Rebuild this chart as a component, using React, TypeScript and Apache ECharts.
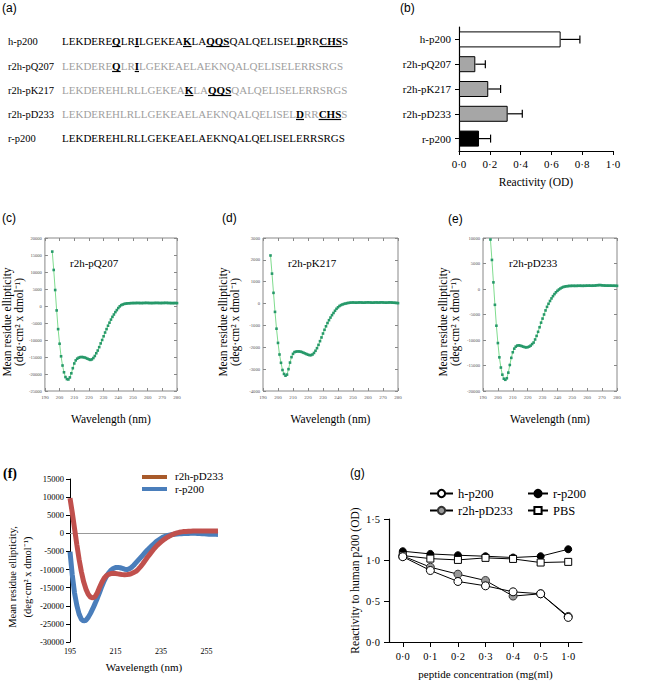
import React, { useEffect, useRef } from "react";
import * as echarts from "echarts";

const SERIF = "Liberation Serif, serif";
const SANS = "Liberation Sans, sans-serif";

// ---------- (a) sequences ----------
const seqNames = ["h-p200", "r2h-pQ207", "r2h-pK217", "r2h-pD233", "r-p200"];
// [..] marks bold, underlined human residues
const seqMarkup = [
  "LEKDERE[Q]LR[I]LGEKEA[K]LA[QQS]QALQELISEL[D]RR[CHS]S",
  "LEKDERE[Q]LR[I]LGEKEAELAEKNQALQELISELERRSRGS",
  "LEKDEREHLRLLGEKEA[K]LA[QQS]QALQELISELERRSRGS",
  "LEKDEREHLRLLGEKEAELAEKNQALQELISEL[D]RR[CHS]S",
  "LEKDEREHLRLLGEKEAELAEKNQALQELISELERRSRGS",
];
const seqIsHybrid = [false, true, true, true, false];

// ---------- (b) reactivity ----------
const bCategories = ["h-p200", "r2h-pQ207", "r2h-pK217", "r2h-pD233", "r-p200"];
const bMeans = [0.66, 0.106, 0.19, 0.316, 0.13];
const bErrors = [0.125, 0.065, 0.08, 0.095, 0.075];

// ---------- CD spectra ----------
const wavelengths = [
  195, 196, 197, 198, 199, 200, 201, 202, 203, 204, 205, 206, 207, 208, 209, 210,
  211, 212, 213, 214, 215, 216, 217, 218, 219, 220, 221, 222, 223, 224, 225, 226,
  227, 228, 229, 230, 231, 232, 233, 234, 235, 236, 237, 238, 239, 240, 241, 242,
  243, 244, 245, 246, 247, 248, 249, 250, 251, 252, 253, 254, 255, 256, 257, 258,
  259, 260, 261, 262, 263, 264, 265, 266, 267, 268, 269, 270, 271, 272, 273, 274,
  275, 276, 277, 278, 279, 280,
];
const cdQ207 = [
  16000, 10600, 4700, -1300, -6800, -11100, -14800, -17500, -19500, -20900, -21500, -21600, -21000, -19800, -18300, -16900,
  -16000, -15500, -15200, -15050, -15000, -15050, -15150, -15300, -15500, -15700, -15850, -15700, -15300, -14700, -13900, -13100,
  -12100, -11000, -10000, -8900, -7800, -6800, -5800, -4900, -4000, -3200, -2500, -1800, -1200, -600, -100, 250,
  450, 600, 700, 750, 800, 820, 850, 870, 860, 880, 900, 880, 870, 860, 880, 900,
  920, 900, 880, 870, 860, 880, 900, 910, 900, 880, 870, 890, 900, 920, 910, 890,
  870, 860, 850, 860, 870, 850,
];
const cdK217 = [
  2200, 1370, 490, -380, -1150, -1800, -2330, -2710, -3040, -3220, -3300, -3250, -3000, -2700, -2450, -2300,
  -2220, -2200, -2190, -2190, -2200, -2220, -2250, -2280, -2310, -2340, -2360, -2360, -2330, -2260, -2160, -2040,
  -1890, -1720, -1550, -1370, -1200, -1040, -890, -760, -640, -530, -430, -330, -240, -170, -110, -70,
  -40, -15, 0, 20, 30, 40, 45, 50, 45, 40, 45, 50, 50, 45, 40, 45,
  50, 55, 50, 45, 40, 45, 50, 50, 45, 50, 55, 50, 45, 40, 45, 50,
  50, 45, 40, 35, 30, 20,
];
const cdD233 = [
  9700, 5700, 1300, -3100, -7200, -10600, -13400, -15400, -16800, -17600, -17800, -17500, -16400, -14900, -13500, -12400,
  -11700, -11300, -11100, -11050, -11100, -11200, -11300, -11400, -11450, -11400, -11300, -11100, -10800, -10500, -9900, -9200,
  -8400, -7500, -6600, -5800, -5000, -4200, -3500, -2900, -2350, -1850, -1400, -1000, -650, -350, -100, 100,
  280, 400, 480, 530, 570, 600, 610, 620, 620, 610, 620, 630, 640, 630, 620, 630,
  640, 650, 660, 650, 640, 650, 670, 700, 740, 770, 760, 720, 690, 670, 660, 650,
  660, 650, 640, 640, 630, 620,
];
// (f) overlay: r-p200 measured 195..260 nm
const cdRp200 = [
  -5100, -11500, -16500, -19900, -22300, -23700, -24200, -24000, -23200, -22100, -20800, -19400, -17900, -16300, -14600, -13100,
  -11900, -10900, -10200, -9700, -9450, -9400, -9500, -9700, -9900, -10000, -9800, -9400, -8800, -8100, -7400, -6700,
  -6000, -5300, -4600, -4000, -3400, -2800, -2200, -1800, -1400, -1000, -750, -550, -420, -320, -240, -180,
  -130, -90, -60, -40, -20, 0, 10, 0, -30, -60, -100, -150, -200, -220, -250, -260,
  -280, -300,
];

// ---------- (g) inhibition ----------
const gCategories = ["0·0", "0·1", "0·2", "0·3", "0·4", "0·5", "1·0"];
const gHp200 = [1.04, 0.872, 0.738, 0.685, 0.612, 0.588, 0.3];
const gR2hD233 = [1.05, 0.912, 0.827, 0.75, 0.56, 0.588, 0.312];
const gRp200 = [1.107, 1.074, 1.058, 1.046, 1.03, 1.046, 1.131];
const gPBS = [1.054, 1.017, 1.001, 1.026, 1.013, 0.969, 0.977];

const dot = (v: number, d = 1) => v.toFixed(d).replace(".", "·");
const plain = (v: number) => String(v);

function parseMarkup(s: string) {
  const segs: { t: string; hi: boolean }[] = [];
  const re = /\[([A-Z]+)\]|([A-Z]+)/g;
  let m;
  while ((m = re.exec(s))) {
    if (m[1]) segs.push({ t: m[1], hi: true });
    else segs.push({ t: m[2], hi: false });
  }
  return segs;
}

function buildSequenceGraphics() {
  const canvas = document.createElement("canvas");
  const ctx = canvas.getContext("2d")!;
  const rowY = [41, 66, 90, 114, 138];
  const fs = 11;
  const els: any[] = [];
  seqNames.forEach((name, r) => {
    const y = rowY[r];
    els.push({
      type: "text", x: 8, y, silent: true,
      style: { text: name, fontFamily: SERIF, fontSize: 10.5, fill: "#000", verticalAlign: "middle", textVerticalAlign: "middle" },
    });
    let x = 62;
    const base = seqIsHybrid[r] ? "#a0a0a0" : "#000";
    parseMarkup(seqMarkup[r]).forEach((seg) => {
      const weight = seg.hi ? "bold" : "normal";
      ctx.font = `${weight} ${fs}px ${SERIF}`;
      const w = ctx.measureText(seg.t).width;
      els.push({
        type: "text", x, y, silent: true,
        style: { text: seg.t, fontFamily: SERIF, fontSize: fs, fontWeight: weight, fill: seg.hi ? "#000" : base, verticalAlign: "middle", textVerticalAlign: "middle" },
      });
      if (seg.hi) {
        els.push({ type: "line", silent: true, shape: { x1: x, y1: y + 5.5, x2: x + w, y2: y + 5.5 }, style: { stroke: "#000", lineWidth: 1.2 } });
      }
      x += w;
    });
  });
  return els;
}

function panelLabel(t: string, x: number, y: number, bold = false) {
  return {
    type: "text", x, y, silent: true,
    style: {
      text: t, fontFamily: bold ? SERIF : SANS, fontSize: bold ? 14 : 12, fontWeight: bold ? "bold" : "normal",
      fill: "#000", verticalAlign: "middle", textVerticalAlign: "middle",
    },
  };
}

function innerLabel(t: string, x: number, y: number) {
  return {
    type: "text", x, y, silent: true,
    style: { text: t, fontFamily: SERIF, fontSize: 11, fill: "#000", verticalAlign: "middle", textVerticalAlign: "middle" },
  };
}

const cdFrame = "#888";
function cdXAxes(gridIndex: number) {
  const common = {
    gridIndex, type: "value", min: 190, max: 280, interval: 10,
    axisLine: { show: false, onZero: false }, splitLine: { show: false },
    axisTick: { show: true, inside: true, length: 3, lineStyle: { color: cdFrame } },
  };
  return [
    { ...common, position: "bottom", axisLabel: { fontSize: 5, color: "#555", margin: 4, fontFamily: SERIF, formatter: plain },
      name: "Wavelength (nm)", nameLocation: "middle", nameGap: 22, nameTextStyle: { fontFamily: SERIF, fontSize: 11.5, color: "#000" } },
    { ...common, position: "top", axisLabel: { show: false } },
  ];
}
function cdYAxes(gridIndex: number, min: number, max: number, interval: number, gap: number) {
  const common = {
    gridIndex, type: "value", min, max, interval,
    axisLine: { show: false, onZero: false }, splitLine: { show: false },
    axisTick: { show: true, inside: true, length: 3, lineStyle: { color: cdFrame } },
  };
  return [
    { ...common, position: "left", axisLabel: { fontSize: 4.6, color: "#555", margin: 3, fontFamily: SERIF, formatter: plain },
      name: "Mean residue ellipticity\n(deg·cm² x dmol⁻¹)", nameLocation: "middle", nameGap: gap,
      nameTextStyle: { fontFamily: SERIF, fontSize: 11.5, color: "#000", lineHeight: 12, padding: [0, 15, 0, 0] } },
    { ...common, position: "right", axisLabel: { show: false } },
  ];
}
function cdSeries(name: string, xi: number, yi: number, vals: number[]) {
  return {
    name, type: "line", xAxisIndex: xi, yAxisIndex: yi, silent: true,
    data: wavelengths.map((w, i) => [w, vals[i]]),
    symbol: "rect", symbolSize: 2.6, showSymbol: true,
    itemStyle: { color: "#27996a" }, lineStyle: { color: "#7fdc8e", width: 1 },
  };
}

export default function App() {
  const ref = useRef<HTMLDivElement>(null);
  useEffect(() => {
    if (!ref.current) return;
    const chart = echarts.init(ref.current, null, { renderer: "svg" });
    const bFill = ["#ffffff", "#a6a6a6", "#a6a6a6", "#a6a6a6", "#000000"];
    const fWl = wavelengths.filter((w) => w <= 260);

    const option: any = {
      animation: false,
      grid: [
        { left: 459, top: 27, width: 154, height: 124 },
        { left: 43, top: 238, width: 134, height: 153, show: true, borderColor: cdFrame, borderWidth: 1, backgroundColor: "transparent" },
        { left: 263, top: 238, width: 135, height: 153, show: true, borderColor: cdFrame, borderWidth: 1, backgroundColor: "transparent" },
        { left: 483, top: 238, width: 134, height: 153, show: true, borderColor: cdFrame, borderWidth: 1, backgroundColor: "transparent" },
        { left: 70, top: 479, width: 148, height: 163 },
        { left: 389, top: 519, width: 193, height: 123 },
      ],
      xAxis: [
        {
          gridIndex: 0, type: "value", min: 0, max: 1, interval: 0.2,
          axisLine: { show: true, onZero: false, lineStyle: { color: "#000", width: 1.2 } },
          axisTick: { show: true, length: 4, lineStyle: { color: "#000" } },
          splitLine: { show: false },
          axisLabel: { formatter: (v: number) => dot(v), fontFamily: SERIF, fontSize: 11, color: "#000", margin: 7 },
          name: "Reactivity (OD)", nameLocation: "middle", nameGap: 25,
          nameTextStyle: { fontFamily: SERIF, fontSize: 11.5, color: "#000" },
        },
        ...cdXAxes(1),
        ...cdXAxes(2),
        ...cdXAxes(3),
        {
          gridIndex: 4, type: "value", min: 195, max: 260, interval: 20,
          axisLine: { show: false, onZero: false }, axisTick: { show: false }, splitLine: { show: false },
          axisLabel: { fontFamily: SERIF, fontSize: 8, color: "#000", margin: 5, showMaxLabel: false, formatter: plain },
          name: "Wavelength (nm)", nameLocation: "middle", nameGap: 19,
          nameTextStyle: { fontFamily: SERIF, fontSize: 11, color: "#000" },
        },
        {
          gridIndex: 5, type: "category", data: gCategories, boundaryGap: true,
          axisLine: { show: true, onZero: false, lineStyle: { color: "#000", width: 1.2 } },
          axisTick: { show: true, alignWithLabel: true, length: 5, lineStyle: { color: "#000" } },
          axisLabel: { fontFamily: SERIF, fontSize: 10.5, color: "#000", margin: 9 },
          name: "peptide concentration (mg(ml)", nameLocation: "middle", nameGap: 26,
          nameTextStyle: { fontFamily: SERIF, fontSize: 11, color: "#000" },
        },
      ],
      yAxis: [
        {
          gridIndex: 0, type: "category", data: bCategories, inverse: true,
          axisLine: { show: true, onZero: false, lineStyle: { color: "#000", width: 1.2 } },
          axisTick: { show: true, alignWithLabel: true, length: 4, lineStyle: { color: "#000" } },
          axisLabel: { fontFamily: SERIF, fontSize: 11, color: "#000", margin: 8 },
        },
        ...cdYAxes(1, -25000, 20000, 5000, 19),
        ...cdYAxes(2, -4000, 3000, 1000, 22),
        ...cdYAxes(3, -20000, 10000, 5000, 22),
        {
          gridIndex: 4, type: "value", min: -30000, max: 15000, interval: 5000,
          axisLine: { show: true, onZero: false, lineStyle: { color: "#000" } },
          axisTick: { show: true, length: 4, lineStyle: { color: "#000" } },
          splitLine: { show: false },
          axisLabel: { fontFamily: SERIF, fontSize: 8.5, color: "#000", margin: 6, formatter: plain },
        },
        {
          gridIndex: 5, type: "value", min: 0, max: 1.5, interval: 0.5,
          axisLine: { show: true, onZero: false, lineStyle: { color: "#000", width: 1.2 } },
          axisTick: { show: true, length: 5, lineStyle: { color: "#000" } },
          splitLine: { show: false },
          axisLabel: { formatter: (v: number) => dot(v), fontFamily: SERIF, fontSize: 10.5, color: "#000", margin: 9 },
          name: "Reactivity to human p200 (OD)", nameLocation: "middle", nameGap: 28,
          nameTextStyle: { fontFamily: SERIF, fontSize: 11.5, color: "#000" },
        },
      ],
      legend: [
        {
          data: ["h-p200", "r2h-pD233"], orient: "vertical", left: 424, top: 482,
          itemWidth: 23, itemHeight: 9, itemGap: 4, selectedMode: false,
          textStyle: { fontFamily: SERIF, fontSize: 12.5, color: "#000" },
        },
        {
          data: ["r-p200", "PBS"], orient: "vertical", left: 522, top: 482,
          itemWidth: 20, itemHeight: 9, itemGap: 4, selectedMode: false,
          textStyle: { fontFamily: SERIF, fontSize: 12.5, color: "#000" },
        },
      ],
      series: [
        // (g)
        {
          name: "h-p200", type: "line", xAxisIndex: 8, yAxisIndex: 8, data: gHp200, z: 4,
          symbol: "circle", symbolSize: 8,
          itemStyle: { color: "#fff", borderColor: "#000", borderWidth: 1 }, lineStyle: { color: "#000", width: 1 },
        },
        {
          name: "r2h-pD233", type: "line", xAxisIndex: 8, yAxisIndex: 8, data: gR2hD233, z: 3,
          symbol: "circle", symbolSize: 8,
          itemStyle: { color: "#999", borderColor: "#333", borderWidth: 1 }, lineStyle: { color: "#000", width: 1 },
        },
        {
          name: "r-p200", type: "line", xAxisIndex: 8, yAxisIndex: 8, data: gRp200, z: 3,
          symbol: "circle", symbolSize: 7,
          itemStyle: { color: "#000", borderColor: "#000", borderWidth: 1 }, lineStyle: { color: "#000", width: 1 },
        },
        {
          name: "PBS", type: "line", xAxisIndex: 8, yAxisIndex: 8, data: gPBS, z: 3,
          symbol: "rect", symbolSize: 7,
          itemStyle: { color: "#fff", borderColor: "#000", borderWidth: 1 }, lineStyle: { color: "#000", width: 1 },
        },
        // (b)
        {
          name: "Reactivity", type: "bar", xAxisIndex: 0, yAxisIndex: 0, barWidth: 16, silent: true,
          data: bMeans.map((v, i) => ({ value: v, itemStyle: { color: bFill[i], borderColor: "#000", borderWidth: 1 } })),
        },
        {
          name: "SD", type: "custom", xAxisIndex: 0, yAxisIndex: 0, silent: true, z: 5,
          data: bCategories.map((c, i) => [i, bMeans[i], bMeans[i] + bErrors[i]]),
          encode: { y: 0, x: [1, 2] },
          renderItem: (params: any, api: any) => {
            const cat = api.value(0);
            const p1 = api.coord([api.value(1), cat]);
            const p2 = api.coord([api.value(2), cat]);
            return {
              type: "group",
              children: [
                { type: "line", shape: { x1: p1[0], y1: p1[1], x2: p2[0], y2: p2[1] }, style: { stroke: "#000", lineWidth: 1.2 } },
                { type: "line", shape: { x1: p2[0], y1: p2[1] - 4, x2: p2[0], y2: p2[1] + 4 }, style: { stroke: "#000", lineWidth: 1.2 } },
              ],
            };
          },
        },
        // (c)(d)(e)
        cdSeries("cd-Q207", 1, 1, cdQ207),
        cdSeries("cd-K217", 3, 3, cdK217),
        cdSeries("cd-D233", 5, 5, cdD233),
        // (f)
        {
          name: "CD r-p200", type: "line", xAxisIndex: 7, yAxisIndex: 7, silent: true,
          data: fWl.map((w, i) => [w, cdRp200[i]]), symbol: "none",
          lineStyle: { color: "#4a7ebb", width: 5 }, z: 2,
          markLine: {
            silent: true, symbol: "none", label: { show: false },
            lineStyle: { color: "#999", width: 1, type: "solid" },
            data: [{ yAxis: 0 }], z: 1,
          },
        },
        {
          name: "CD r2h-pD233", type: "line", xAxisIndex: 7, yAxisIndex: 7, silent: true,
          data: fWl.map((w, i) => [w, cdD233[i]]), symbol: "none",
          lineStyle: { color: "#c0504d", width: 5 }, z: 3,
        },
      ],
      graphic: [
        panelLabel("(a)", 2, 8),
        panelLabel("(b)", 400, 8),
        panelLabel("(c)", 2, 218),
        panelLabel("(d)", 222, 218),
        panelLabel("(e)", 448, 219),
        panelLabel("(f)", 3, 473, true),
        panelLabel("(g)", 350, 473),
        ...buildSequenceGraphics(),
        innerLabel("r2h-pQ207", 70, 263),
        innerLabel("r2h-pK217", 288, 263),
        innerLabel("r2h-pD233", 509, 263),
        // (f) legend
        { type: "line", silent: true, shape: { x1: 142, y1: 477, x2: 167, y2: 477 }, style: { stroke: "#a85a2a", lineWidth: 4 } },
        { type: "line", silent: true, shape: { x1: 142, y1: 489, x2: 167, y2: 489 }, style: { stroke: "#4a7ebb", lineWidth: 4 } },
        innerLabel("r2h-pD233", 175, 476),
        innerLabel("r-p200", 175, 489),
        // (f) y-axis title
        {
          type: "text", x: 12, y: 577, rotation: Math.PI / 2, silent: true,
          style: { text: "Mean residue ellipticity,", fontFamily: SERIF, fontSize: 10.5, fill: "#000", align: "center", verticalAlign: "middle", textAlign: "center", textVerticalAlign: "middle" },
        },
        {
          type: "text", x: 27, y: 577, rotation: Math.PI / 2, silent: true,
          style: { text: "(deg·cm² x dmol⁻¹)", fontFamily: SERIF, fontSize: 10.5, fill: "#000", align: "center", verticalAlign: "middle", textAlign: "center", textVerticalAlign: "middle" },
        },
      ],
    };
    chart.setOption(option);
    return () => chart.dispose();
  }, []);
  return (
    <div
      ref={ref}
      style={{ position: "absolute", left: 0, top: 0, width: 650, height: 694, background: "#fff" }}
    />
  );
}
